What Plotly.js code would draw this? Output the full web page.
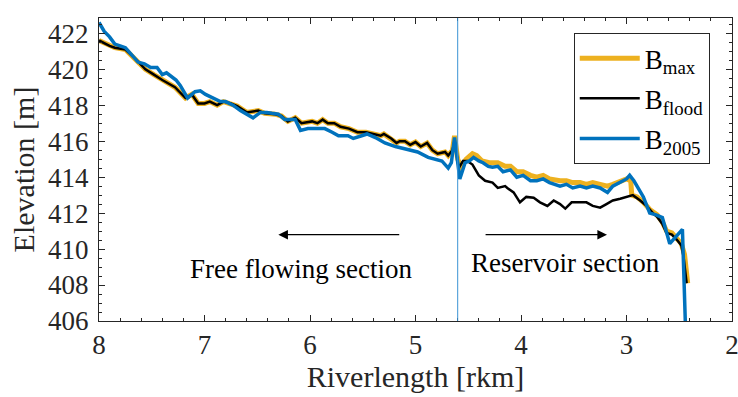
<!DOCTYPE html>
<html>
<head>
<meta charset="utf-8">
<script src="https://cdn.plot.ly/plotly-3.0.1.min.js"></script>
<style>html,body{margin:0;padding:0;background:#fff;}#chart{width:738px;height:397px;}</style>
</head>
<body>
<div id="chart"></div>
<script>
// B_flood (black)
const floodX = [8.00,7.95,7.90,7.85,7.75,7.66,7.56,7.48,7.40,7.28,7.18,7.12,7.06,7.00,6.95,6.88,6.82,6.75,6.69,6.60,6.55,6.49,6.43,6.33,6.27,6.21,6.14,6.08,6.03,5.98,5.93,5.88,5.83,5.77,5.71,5.63,5.55,5.47,5.40,5.33,5.30,5.23,5.18,5.15,5.10,5.05,5.00,4.95,4.89,4.84,4.79,4.72,4.69,4.65,4.63,4.59,4.55,4.51,4.46,4.40,4.34,4.27,4.22,4.15,4.13,4.07,4.01,3.95,3.88,3.82,3.75,3.69,3.63,3.58,3.52,3.46,3.38,3.32,3.25,3.19,3.13,3.06,3.00,2.94,2.87,2.81,2.75,2.71,2.66,2.62,2.57,2.52,2.48,2.46,2.43];
const floodY = [421.6,421.45,421.3,421.2,421.1,420.6,420.0,419.7,419.4,419.0,418.4,418.6,418.1,418.1,418.2,418.0,418.2,418.1,417.95,417.6,417.65,417.7,417.55,417.5,417.4,417.1,417.3,417.0,417.05,417.1,417.0,417.2,417.0,417.0,416.8,416.7,416.5,416.5,416.4,416.3,416.4,416.15,415.9,416.0,416.0,415.8,415.95,415.7,415.9,415.5,415.3,415.4,415.2,415.5,416.0,414.5,414.9,414.9,414.7,414.1,413.8,413.7,413.4,413.5,413.4,413.15,412.6,412.9,412.85,412.6,412.4,412.7,412.5,412.25,412.6,412.6,412.6,412.4,412.3,412.5,412.7,412.8,412.9,413.0,412.7,412.4,412.0,411.8,411.4,410.9,410.8,410.5,410.2,409.6,408.1];

// B_2005 (blue)
const y2005X = [8.00,7.95,7.90,7.85,7.80,7.75,7.69,7.63,7.57,7.51,7.45,7.40,7.36,7.31,7.27,7.23,7.16,7.09,7.04,6.99,6.95,6.91,6.85,6.80,6.73,6.66,6.60,6.54,6.47,6.41,6.36,6.30,6.24,6.18,6.14,6.09,6.02,5.93,5.86,5.79,5.73,5.64,5.59,5.51,5.46,5.38,5.29,5.19,5.10,5.04,4.98,4.88,4.80,4.75,4.69,4.66,4.63,4.60,4.58,4.53,4.49,4.45,4.40,4.36,4.31,4.27,4.22,4.17,4.10,4.04,3.98,3.91,3.85,3.79,3.73,3.63,3.57,3.51,3.44,3.38,3.32,3.25,3.18,3.13,3.06,3.00,2.97,2.93,2.84,2.78,2.72,2.66,2.59,2.53,2.47,2.44];
const y2005Y = [422.6,422.1,421.8,421.4,421.3,421.2,420.8,420.4,420.3,420.1,420.1,419.7,419.8,419.6,419.4,419.1,418.4,418.75,418.8,418.6,418.5,418.4,418.2,418.2,418.0,417.7,417.5,417.3,417.6,417.6,417.55,417.5,417.2,417.2,417.2,416.6,416.7,416.7,416.7,416.5,416.3,416.3,416.15,416.3,416.4,416.2,415.9,415.7,415.55,415.5,415.4,415.1,415.0,414.9,414.5,414.8,416.2,415.0,413.9,414.8,414.9,415.1,414.9,414.8,414.6,414.55,414.6,414.3,414.4,414.0,414.1,413.8,413.8,413.9,413.7,413.5,413.6,413.4,413.5,413.4,413.5,413.4,413.15,413.5,413.7,413.9,414.1,413.8,412.9,412.0,411.9,411.75,410.3,410.7,411.1,405.5];

// B_max (yellow)
const maxX = [8.00,7.95,7.90,7.85,7.75,7.66,7.56,7.48,7.40,7.28,7.18,7.12,7.06,7.00,6.95,6.88,6.82,6.75,6.69,6.60,6.55,6.49,6.43,6.33,6.27,6.21,6.14,6.08,6.03,5.98,5.93,5.88,5.83,5.77,5.71,5.63,5.55,5.47,5.40,5.33,5.30,5.23,5.18,5.15,5.10,5.05,5.00,4.95,4.89,4.84,4.79,4.72,4.69,4.65,4.63,4.60,4.57,4.52,4.46,4.42,4.37,4.30,4.22,4.15,4.10,4.04,3.98,3.91,3.85,3.79,3.73,3.63,3.57,3.51,3.44,3.38,3.32,3.25,3.18,3.13,3.06,3.00,2.96,2.95,2.90,2.84,2.78,2.71,2.66,2.62,2.57,2.52,2.48,2.45,2.42];
const maxY = [421.6,421.45,421.3,421.2,421.1,420.6,420.0,419.7,419.4,419.0,418.4,418.6,418.1,418.1,418.2,418.0,418.2,418.1,417.95,417.6,417.65,417.7,417.55,417.5,417.4,417.1,417.3,417.0,417.05,417.1,417.0,417.2,417.0,417.0,416.8,416.7,416.5,416.5,416.4,416.3,416.4,416.15,415.9,416.0,416.0,415.8,415.95,415.7,415.9,415.5,415.3,415.4,415.2,415.5,416.3,415.0,414.6,415.0,415.3,415.2,414.9,414.8,414.8,414.6,414.6,414.3,414.3,414.1,414.0,414.1,413.9,413.8,413.8,413.7,413.7,413.6,413.7,413.6,413.5,413.6,413.8,413.9,413.8,413.0,412.9,412.6,412.2,411.9,411.5,411.0,410.9,410.6,410.3,409.7,408.1];

const sectionBoundary = 4.6;
const yRange = [406, 422.85];
const xRange = [8, 2];

const fontFam = '"Liberation Serif", "Times New Roman", serif';
const axisCol = '#262626';

const traces = [
  {x: maxX, y: maxY, type: 'scatter', mode: 'lines', name: 'B<sub>max</sub>',
   line: {color: '#EDB120', width: 5}, legendgroup: 'a'},
  {x: floodX, y: floodY, type: 'scatter', mode: 'lines', name: 'B<sub>flood</sub>',
   line: {color: '#000000', width: 2.5}, legendgroup: 'b'},
  {x: y2005X, y: y2005Y, type: 'scatter', mode: 'lines', name: 'B<sub>2005</sub>',
   line: {color: '#0072BD', width: 3.5}, legendgroup: 'c'}
];

const layout = {
  width: 738, height: 397,
  margin: {l: 99, r: 6, t: 18, b: 76},
  paper_bgcolor: '#fff', plot_bgcolor: '#fff',
  font: {family: fontFam, size: 26, color: axisCol},
  showlegend: true,
  legend: {x: 0.75, y: 0.95, xanchor: 'left', yanchor: 'top',
    bgcolor: '#fff', bordercolor: axisCol, borderwidth: 1,
    font: {family: fontFam, size: 27, color: '#000'},
    tracegroupgap: 2, itemwidth: 60},
  xaxis: {
    range: xRange, autorange: false,
    title: {text: 'Riverlength [rkm]', font: {family: fontFam, size: 30, color: axisCol}, standoff: 2},
    tickvals: [8,7,6,5,4,3,2], ticks: 'inside', ticklen: 6, tickcolor: axisCol,
    minor: {dtick: 0.2, ticks: 'inside', ticklen: 3, tickcolor: axisCol},
    showline: true, linecolor: axisCol, linewidth: 1, mirror: 'allticks',
    showgrid: false, zeroline: false, ticklabeloverflow: 'allow',
    tickfont: {family: fontFam, size: 27, color: axisCol}
  },
  yaxis: {
    range: yRange, autorange: false,
    title: {text: 'Elevation [m]', font: {family: fontFam, size: 30, color: axisCol}, standoff: 4},
    tickvals: [406,408,410,412,414,416,418,420,422], ticks: 'inside', ticklen: 6, tickcolor: axisCol,
    minor: {dtick: 0.5, ticks: 'inside', ticklen: 3, tickcolor: axisCol},
    showline: true, linecolor: axisCol, linewidth: 1, mirror: 'allticks',
    showgrid: false, zeroline: false, ticklabeloverflow: 'allow',
    tickfont: {family: fontFam, size: 27, color: axisCol},
    ticklabelstandoff: 4
  },
  shapes: [
    {type: 'line', xref: 'x', yref: 'paper', x0: sectionBoundary, x1: sectionBoundary, y0: 0, y1: 1,
     line: {color: '#3a93d4', width: 1}}
  ],
  annotations: [
    {x: 6.30, y: 410.8, ax: 5.14, ay: 410.8, xref: 'x', yref: 'y', axref: 'x', ayref: 'y',
     text: '', showarrow: true, arrowhead: 2, arrowsize: 1.6, arrowwidth: 1.2, arrowcolor: '#000'},
    {x: 3.185, y: 410.8, ax: 4.35, ay: 410.8, xref: 'x', yref: 'y', axref: 'x', ayref: 'y',
     text: '', showarrow: true, arrowhead: 2, arrowsize: 1.6, arrowwidth: 1.2, arrowcolor: '#000'},
    {x: 6.09, y: 408.9, xref: 'x', yref: 'y', text: 'Free flowing section', showarrow: false,
     font: {family: fontFam, size: 27, color: '#000'}},
    {x: 3.58, y: 409.25, xref: 'x', yref: 'y', text: 'Reservoir section', showarrow: false,
     font: {family: fontFam, size: 27, color: '#000'}}
  ]
};

Plotly.newPlot('chart', traces, layout, {displayModeBar: false, staticPlot: true});
</script>
</body>
</html>
